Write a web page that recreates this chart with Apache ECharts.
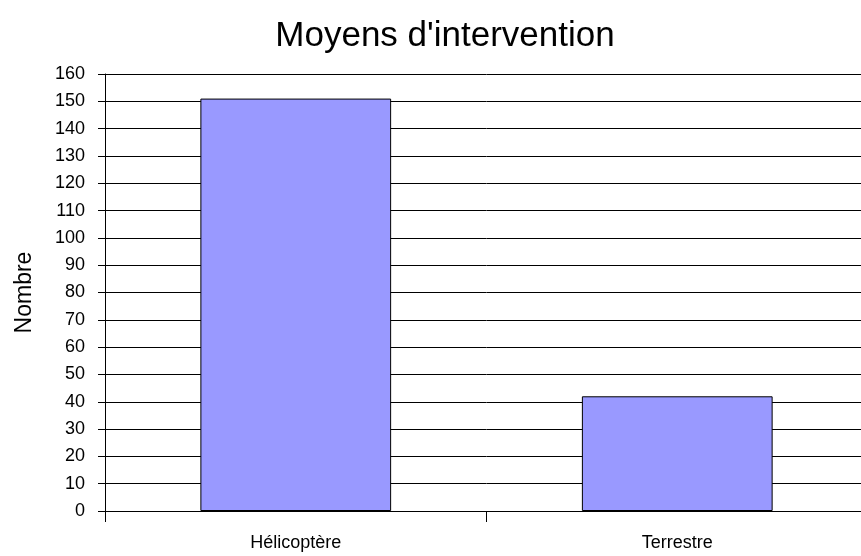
<!DOCTYPE html>
<html>
<head>
<meta charset="utf-8">
<script src="https://cdn.jsdelivr.net/npm/echarts@6/dist/echarts.min.js"></script>
<style>html,body{margin:0;padding:0;background:#fff;overflow:hidden;}#chart{width:868px;height:556px;}</style>
</head>
<body>
<div id="chart"></div>
<script>
var titleText = "Moyens d'intervention";
var categories = ["Hélicoptère", "Terrestre"];
var values = [151, 42];
var yAxisName = "Nombre";

var chart = echarts.init(document.getElementById('chart'), null, {renderer: 'canvas'});
var font = '"Liberation Sans", Arial, sans-serif';
chart.setOption({
  animation: false,
  backgroundColor: '#ffffff',
  title: {
    text: titleText,
    left: 440,
    textAlign: 'center',
    top: 14,
    textStyle: {fontFamily: font, fontSize: 35, fontWeight: 'normal', color: '#000'}
  },
  grid: {left: 105, top: 74, bottom: 45, right: 0, containLabel: false},
  xAxis: {
    type: 'category',
    data: categories,
    axisLine: {lineStyle: {color: '#000', width: 1}},
    axisTick: {show: true, length: 11, alignWithLabel: false, lineStyle: {color: '#000'}},
    axisLabel: {fontFamily: font, fontSize: 18, color: '#000', margin: 23},
    splitLine: {show: false}
  },
  yAxis: {
    type: 'value',
    min: 0, max: 160, interval: 10,
    name: yAxisName,
    nameLocation: 'middle',
    nameRotate: 90,
    nameGap: 69,
    nameTextStyle: {fontFamily: font, fontSize: 23, color: '#000'},
    axisLine: {show: true, lineStyle: {color: '#000', width: 1}},
    axisTick: {show: true, length: 7, inside: false, lineStyle: {color: '#000'}},
    axisLabel: {fontFamily: font, fontSize: 18, color: '#000', margin: 20},
    splitLine: {show: true, lineStyle: {color: '#000', width: 1}}
  },
  series: [{
    type: 'bar',
    data: values,
    barWidth: '50%',
    itemStyle: {color: '#9999FF', borderColor: '#000', borderWidth: 1}
  }]
});
</script>
</body>
</html>
